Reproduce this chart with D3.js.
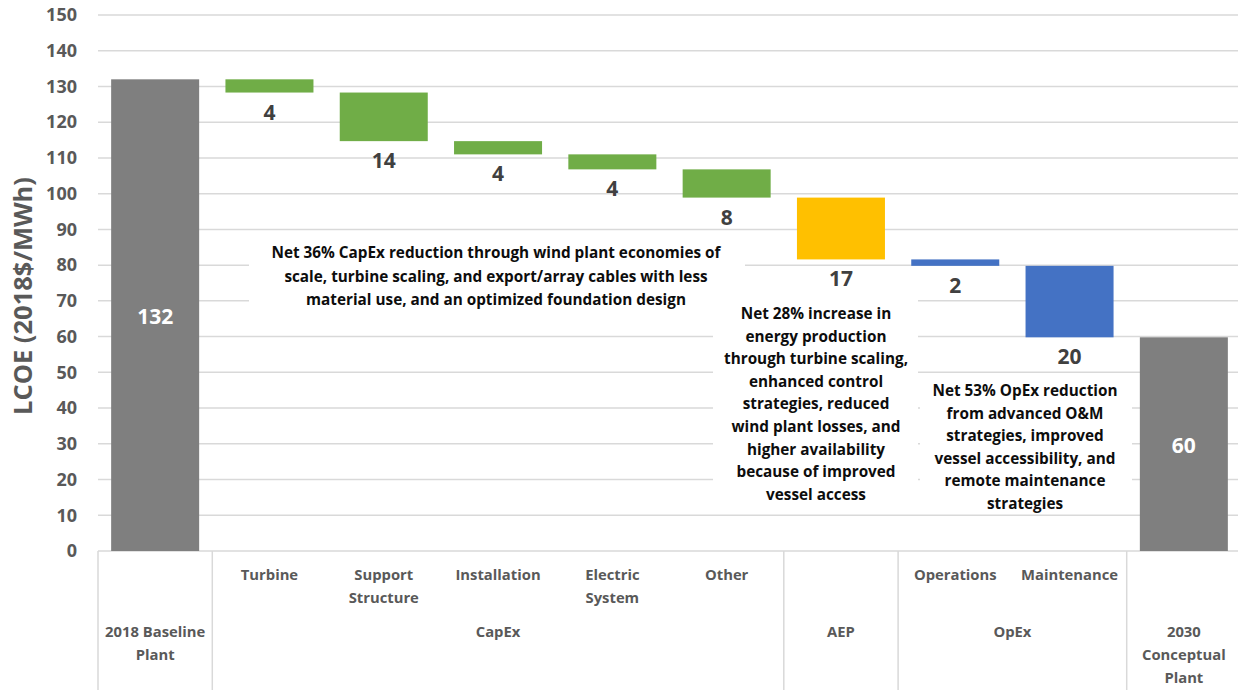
<!DOCTYPE html>
<html>
<head>
<meta charset="utf-8">
<script src="https://cdn.jsdelivr.net/npm/d3@7/dist/d3.min.js"></script>
<style>
  html, body { margin: 0; padding: 0; background: #fff; }
  svg { display: block; font-family: "Open Sans", Lato, sans-serif; }
</style>
</head>
<body>
<svg id="chart" width="1238" height="690"></svg>
<script>
// ---------- data ----------
const categories = ["2018 Baseline Plant", "Turbine", "Support Structure", "Installation",
  "Electric System", "Other", "AEP", "Operations", "Maintenance", "2030 Conceptual Plant"];
const subLabels = ["", "Turbine", "Support|Structure", "Installation", "Electric|System",
  "Other", "", "Operations", "Maintenance", ""];
const groupNames = ["2018 Baseline|Plant", "CapEx", "AEP", "OpEx", "2030|Conceptual|Plant"];
const groupStart = [0, 1, 6, 7, 9];
const groupEnd = [0, 5, 6, 8, 9];
const baselineValue = 132;
const stepValues = [3.7, 13.6, 3.7, 4.2, 7.9, 17.3, 1.8, 20.0];   // reductions
const stepKinds = ["capex", "capex", "capex", "capex", "capex", "aep", "opex", "opex"];
const yTicks = [0, 10, 20, 30, 40, 50, 60, 70, 80, 90, 100, 110, 120, 130, 140, 150];
const axisTitle = "LCOE (2018$/MWh)";
const noteCapex = ["Net 36% CapEx reduction through wind plant economies of",
  "scale, turbine scaling, and export/array cables with less",
  "material use, and an optimized foundation design"];
const noteAep = ["Net 28% increase in", "energy production", "through turbine scaling,",
  "enhanced control", "strategies, reduced", "wind plant losses, and",
  "higher availability", "because of improved", "vessel access"];
const noteOpex = ["Net 53% OpEx reduction", "from advanced O&M", "strategies, improved",
  "vessel accessibility, and", "remote maintenance", "strategies"];

// ---------- derived bars ----------
const colors = { total: "#7f7f7f", capex: "#70ad47", aep: "#ffc000", opex: "#4472c4" };
const bars = [];
bars.push({ cat: categories[0], y0: 0, y1: baselineValue, kind: "total", label: String(baselineValue) });
let level = baselineValue;
stepValues.forEach((v, i) => {
  bars.push({ cat: categories[i + 1], y0: level - v, y1: level, kind: stepKinds[i], label: String(Math.round(v)) });
  level -= v;
});
bars.push({ cat: categories[9], y0: 0, y1: level, kind: "total", label: String(Math.round(level)) });

// ---------- layout ----------
const svg = d3.select("#chart");
const mLeft = 98, mRight = 1241, mTop = 15, mBottom = 551;
const x = d3.scaleBand().domain(categories).range([mLeft, mRight]).paddingInner(0.23).paddingOuter(0.115);
const y = d3.scaleLinear().domain([0, 150]).range([mBottom, mTop]);
const step = x.step();
const grey = "#595959";

// gridlines
svg.append("g").selectAll("line").data(yTicks).join("line")
  .attr("x1", mLeft).attr("x2", 1238)
  .attr("y1", d => y(d)).attr("y2", d => y(d))
  .attr("stroke", "#d9d9d9").attr("stroke-width", 1.5);

// y axis labels via d3 axis
const yAxis = svg.append("g").attr("transform", `translate(${mLeft - 21},0)`)
  .call(d3.axisLeft(y).tickValues(yTicks).tickSize(0).tickPadding(0));
yAxis.select(".domain").remove();
yAxis.selectAll("text").attr("fill", grey).attr("font-size", 18).attr("font-weight", 700)
  .attr("font-family", "'Open Sans', sans-serif");

// axis title
svg.append("text").attr("transform", `translate(32,296) rotate(-90)`)
  .attr("text-anchor", "middle").attr("fill", grey).attr("font-size", 25.5).attr("font-weight", 700)
  .text(axisTitle);

// category table lines
const boundaries = [0, 1, 6, 7, 9].map(i => mLeft + i * step);
svg.append("g").selectAll("line").data(boundaries).join("line")
  .attr("x1", d => d).attr("x2", d => d).attr("y1", mBottom).attr("y2", 690)
  .attr("stroke", "#d9d9d9").attr("stroke-width", 1.5);

// bars
svg.append("g").selectAll("rect").data(bars).join("rect")
  .attr("x", d => x(d.cat)).attr("width", x.bandwidth())
  .attr("y", d => y(d.y1)).attr("height", d => y(d.y0) - y(d.y1))
  .attr("fill", d => colors[d.kind]);

// annotation boxes (white background masks gridlines)
function note(lines, cx, firstY, lh, box) {
  svg.append("rect").attr("x", box[0]).attr("y", box[1]).attr("width", box[2] - box[0])
    .attr("height", box[3] - box[1]).attr("fill", "#fff");
  const t = svg.append("text").attr("text-anchor", "middle").attr("font-size", 15.3)
    .attr("font-weight", 700).attr("fill", "#0d0d0d");
  lines.forEach((l, i) => t.append("tspan").attr("x", cx).attr("y", firstY + i * lh).text(l));
}
note(noteCapex, 496, 258, 23.5, [249, 236, 745, 316]);
note(noteAep, 816, 319, 22.6, [713, 291, 918, 511]);
note(noteOpex, 1025, 396, 22.6, [920, 378, 1132, 512]);

// value labels
svg.append("g").selectAll("text").data(bars).join("text")
  .attr("x", d => x(d.cat) + x.bandwidth() / 2)
  .attr("y", d => d.kind === "total" ? y(d.y1 / 2) + 9 : y(d.y0) + 27)
  .attr("text-anchor", "middle").attr("font-size", 21).attr("font-weight", 700)
  .attr("fill", d => d.kind === "total" ? "#fff" : "#404040")
  .text(d => d.label);

// sub-category labels
const sub = svg.append("g").attr("font-size", 14.8).attr("font-weight", 700).attr("fill", grey)
  .attr("text-anchor", "middle");
subLabels.forEach((s, i) => {
  if (!s) return;
  const t = sub.append("text");
  s.split("|").forEach((l, k) => t.append("tspan").attr("x", x(categories[i]) + x.bandwidth() / 2)
    .attr("y", 580 + k * 23).text(l));
});
// group labels
groupNames.forEach((g, i) => {
  const cx = mLeft + (groupStart[i] + groupEnd[i] + 1) / 2 * step;
  const t = sub.append("text");
  g.split("|").forEach((l, k) => t.append("tspan").attr("x", cx).attr("y", 637 + k * 23).text(l));
});
</script>
</body>
</html>
